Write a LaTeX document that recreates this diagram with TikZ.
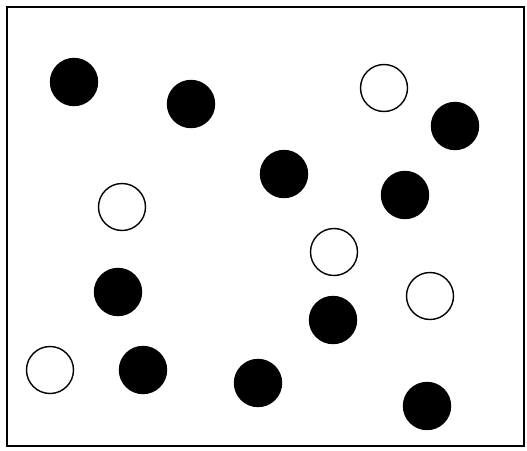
\documentclass[tikz,border=0pt]{standalone}
\usepackage{tikz}

\begin{document}
\begin{tikzpicture}[
        x=1pt, y=-1pt,
        frame/.style={draw, line width=1.3pt},
        ball/.style={circle, draw, line width=1.4pt, minimum size=47pt, inner sep=0pt},
        full/.style={ball, fill=black},
        empty/.style={ball, fill=white}
    ]
        \useasboundingbox (0,0) rectangle (527,450);
        \draw[frame] (7,7) rectangle (524,446);

        % dark balls
        \foreach \x/\y [count=\i] in {74/82, 191/104, 284/174, 455/126, 405/195,
                                      118/292, 333/320, 143/370, 258/383, 427/406}
            \node[full] (dark\i) at (\x,\y) {};

        % light balls
        \foreach \x/\y [count=\i] in {384/88, 122/207, 334/252, 430/296, 50/370}
            \node[empty] (light\i) at (\x,\y) {};
    \end{tikzpicture}
\end{document}
